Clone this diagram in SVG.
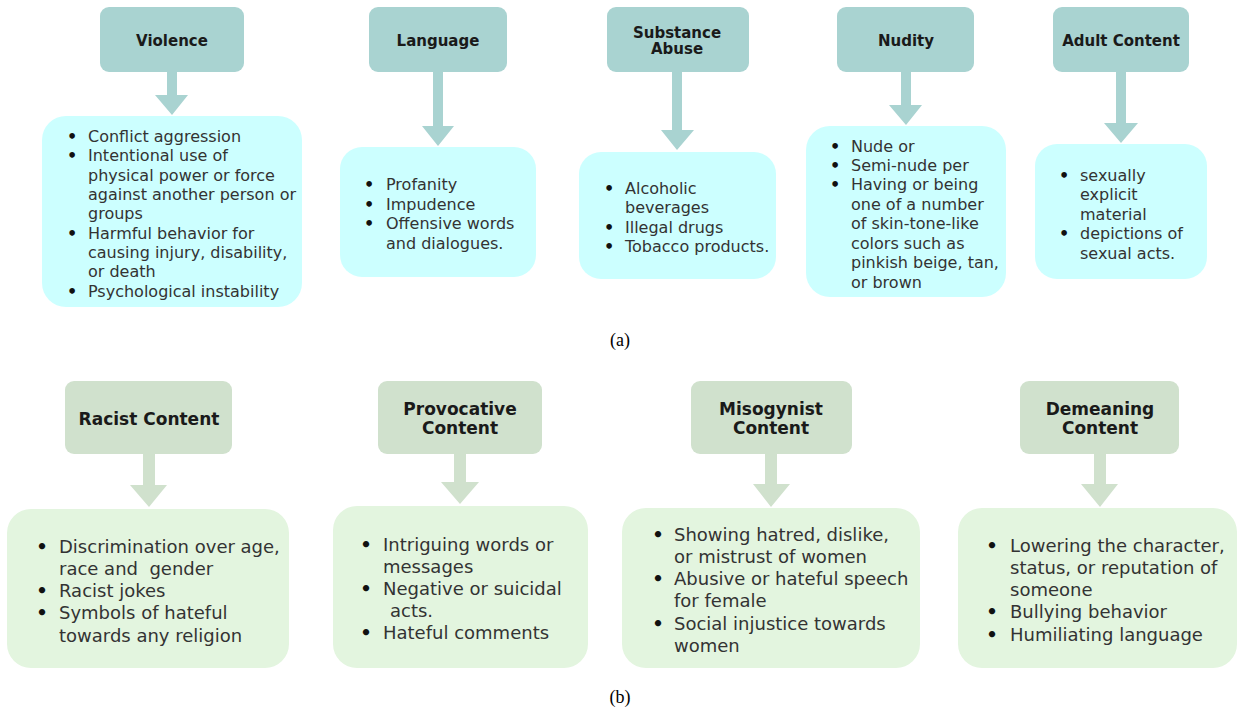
<svg xmlns="http://www.w3.org/2000/svg" width="1239" height="710" viewBox="0 0 1239 710">
<style>
.bg{fill:#ffffff}
.h1{fill:#a9d3d1}
.c1{fill:#ccffff}
.a1{fill:#a9d3d1}
.h2{fill:#d0e1cd}
.c2{fill:#e3f5df}
.a2{fill:#d0e1cd}
.ht{font-family:"DejaVu Sans",Verdana,sans-serif;font-weight:bold;fill:#1a1a1a;text-anchor:middle}
.t1{font-size:15px}
.t2{font-size:17px}
.b1{font-family:"DejaVu Sans",Verdana,sans-serif;font-size:16px;fill:#333333}
.b2{font-family:"DejaVu Sans",Verdana,sans-serif;font-size:18px;fill:#333333}
.bu{text-anchor:middle;font-weight:bold;fill:#111111}
.cap{font-family:"Liberation Serif","Times New Roman",serif;font-size:18px;fill:#000;text-anchor:middle}
</style>
<rect class="bg" x="0" y="0" width="1239" height="710"/>

<g id="connectors">
  <path class="a1" d="M167,72 H177 V95 H188 L172,115 L155,95 H167 Z"/>
  <path class="a1" d="M433,72 H443 V126 H454 L438,146 L422,126 H433 Z"/>
  <path class="a1" d="M672,72 H682 V130 H694 L677,150 L661,130 H672 Z"/>
  <path class="a1" d="M901,72 H911 V105 H922 L906,125 L889,105 H901 Z"/>
  <path class="a1" d="M1116,72 H1126 V123 H1138 L1121,143 L1104,123 H1116 Z"/>
  <path class="a2" d="M143,454 H155 V485 H167 L149,507 L130,485 H143 Z"/>
  <path class="a2" d="M454,454 H466 V482 H479 L460,504 L441,482 H454 Z"/>
  <path class="a2" d="M765,454 H777 V484 H790 L771,507 L753,484 H765 Z"/>
  <path class="a2" d="M1094,454 H1106 V484 H1118 L1100,507 L1081,484 H1094 Z"/>
</g>

<g id="violence-header">
  <rect class="h1" x="100" y="7" width="144" height="65" rx="9"/>
  <text class="ht t1" x="172" y="46">Violence</text>
</g>
<g id="violence-list">
  <rect class="c1" x="42" y="116" width="260" height="191" rx="24"/>
  <text class="b1 bu" x="72" y="142">•</text>
  <text class="b1 bu" x="72" y="161">•</text>
  <text class="b1 bu" x="72" y="239">•</text>
  <text class="b1 bu" x="72" y="297">•</text>
  <text class="b1" x="88" y="142">Conflict aggression</text>
  <text class="b1" x="88" y="161">Intentional use of</text>
  <text class="b1" x="88" y="181">physical power or force</text>
  <text class="b1" x="88" y="200">against another person or</text>
  <text class="b1" x="88" y="219">groups</text>
  <text class="b1" x="88" y="239">Harmful behavior for</text>
  <text class="b1" x="88" y="258">causing injury, disability,</text>
  <text class="b1" x="88" y="277">or death</text>
  <text class="b1" x="88" y="297">Psychological instability</text>
</g>

<g id="language-header">
  <rect class="h1" x="369" y="7" width="138" height="65" rx="9"/>
  <text class="ht t1" x="438" y="46">Language</text>
</g>
<g id="language-list">
  <rect class="c1" x="340" y="147" width="196" height="130" rx="22"/>
  <text class="b1 bu" x="369" y="190">•</text>
  <text class="b1 bu" x="369" y="210">•</text>
  <text class="b1 bu" x="369" y="229">•</text>
  <text class="b1" x="386" y="190">Profanity</text>
  <text class="b1" x="386" y="210">Impudence</text>
  <text class="b1" x="386" y="229">Offensive words</text>
  <text class="b1" x="386" y="249">and dialogues.</text>
</g>

<g id="substance-header">
  <rect class="h1" x="607" y="7" width="142" height="65" rx="9"/>
  <text class="ht t1" x="677" y="38">Substance</text>
  <text class="ht t1" x="677" y="54">Abuse</text>
</g>
<g id="substance-list">
  <rect class="c1" x="579" y="152" width="197" height="127" rx="22"/>
  <text class="b1 bu" x="609" y="194">•</text>
  <text class="b1 bu" x="609" y="233">•</text>
  <text class="b1 bu" x="609" y="252">•</text>
  <text class="b1" x="625" y="194">Alcoholic</text>
  <text class="b1" x="625" y="213">beverages</text>
  <text class="b1" x="625" y="233">Illegal drugs</text>
  <text class="b1" x="625" y="252">Tobacco products.</text>
</g>

<g id="nudity-header">
  <rect class="h1" x="837" y="7" width="137" height="65" rx="9"/>
  <text class="ht t1" x="906" y="46">Nudity</text>
</g>
<g id="nudity-list">
  <rect class="c1" x="806" y="126" width="200" height="171" rx="24"/>
  <text class="b1 bu" x="835" y="152">•</text>
  <text class="b1 bu" x="835" y="171">•</text>
  <text class="b1 bu" x="835" y="190">•</text>
  <text class="b1" x="851" y="152">Nude or</text>
  <text class="b1" x="851" y="171">Semi-nude per</text>
  <text class="b1" x="851" y="190">Having or being</text>
  <text class="b1" x="851" y="210">one of a number</text>
  <text class="b1" x="851" y="229">of skin-tone-like</text>
  <text class="b1" x="851" y="249">colors such as</text>
  <text class="b1" x="851" y="268">pinkish beige, tan,</text>
  <text class="b1" x="851" y="288">or brown</text>
</g>

<g id="adult-header">
  <rect class="h1" x="1053" y="7" width="136" height="65" rx="9"/>
  <text class="ht t1" x="1121" y="46">Adult Content</text>
</g>
<g id="adult-list">
  <rect class="c1" x="1035" y="144" width="172" height="135" rx="22"/>
  <text class="b1 bu" x="1064" y="181">•</text>
  <text class="b1 bu" x="1064" y="239">•</text>
  <text class="b1" x="1080" y="181">sexually</text>
  <text class="b1" x="1080" y="200">explicit</text>
  <text class="b1" x="1080" y="220">material</text>
  <text class="b1" x="1080" y="239">depictions of</text>
  <text class="b1" x="1080" y="259">sexual acts.</text>
</g>

<text class="cap" x="620" y="346">(a)</text>

<g id="racist-header">
  <rect class="h2" x="65" y="381" width="167" height="73" rx="9"/>
  <text class="ht t2" x="149" y="425">Racist Content</text>
</g>
<g id="racist-list">
  <rect class="c2" x="7" y="509" width="282" height="159" rx="24"/>
  <text class="b2 bu" x="42" y="553">•</text>
  <text class="b2 bu" x="42" y="597">•</text>
  <text class="b2 bu" x="42" y="619">•</text>
  <text class="b2" x="59" y="553">Discrimination over age,</text>
  <text class="b2" x="59" y="575" xml:space="preserve">race and  gender</text>
  <text class="b2" x="59" y="597">Racist jokes</text>
  <text class="b2" x="59" y="619">Symbols of hateful</text>
  <text class="b2" x="59" y="642">towards any religion</text>
</g>

<g id="provocative-header">
  <rect class="h2" x="378" y="381" width="164" height="73" rx="9"/>
  <text class="ht t2" x="460" y="415">Provocative</text>
  <text class="ht t2" x="460" y="434">Content</text>
</g>
<g id="provocative-list">
  <rect class="c2" x="333" y="506" width="255" height="162" rx="24"/>
  <text class="b2 bu" x="366" y="551">•</text>
  <text class="b2 bu" x="366" y="595">•</text>
  <text class="b2 bu" x="366" y="639">•</text>
  <text class="b2" x="383" y="551">Intriguing words or</text>
  <text class="b2" x="383" y="573">messages</text>
  <text class="b2" x="383" y="595">Negative or suicidal</text>
  <text class="b2" x="390" y="617">acts.</text>
  <text class="b2" x="383" y="639">Hateful comments</text>
</g>

<g id="misogynist-header">
  <rect class="h2" x="691" y="381" width="161" height="73" rx="9"/>
  <text class="ht t2" x="771" y="415">Misogynist</text>
  <text class="ht t2" x="771" y="434">Content</text>
</g>
<g id="misogynist-list">
  <rect class="c2" x="622" y="508" width="298" height="160" rx="24"/>
  <text class="b2 bu" x="658" y="541">•</text>
  <text class="b2 bu" x="658" y="585">•</text>
  <text class="b2 bu" x="658" y="630">•</text>
  <text class="b2" x="674" y="541">Showing hatred, dislike,</text>
  <text class="b2" x="674" y="563">or mistrust of women</text>
  <text class="b2" x="674" y="585">Abusive or hateful speech</text>
  <text class="b2" x="674" y="607">for female</text>
  <text class="b2" x="674" y="630">Social injustice towards</text>
  <text class="b2" x="674" y="652">women</text>
</g>

<g id="demeaning-header">
  <rect class="h2" x="1020" y="381" width="159" height="73" rx="9"/>
  <text class="ht t2" x="1100" y="415">Demeaning</text>
  <text class="ht t2" x="1100" y="434">Content</text>
</g>
<g id="demeaning-list">
  <rect class="c2" x="958" y="508" width="279" height="160" rx="24"/>
  <text class="b2 bu" x="992" y="552">•</text>
  <text class="b2 bu" x="992" y="618">•</text>
  <text class="b2 bu" x="992" y="641">•</text>
  <text class="b2" x="1010" y="552">Lowering the character,</text>
  <text class="b2" x="1010" y="574">status, or reputation of</text>
  <text class="b2" x="1010" y="596">someone</text>
  <text class="b2" x="1010" y="618">Bullying behavior</text>
  <text class="b2" x="1010" y="641">Humiliating language</text>
</g>

<text class="cap" x="620" y="703">(b)</text>
</svg>
